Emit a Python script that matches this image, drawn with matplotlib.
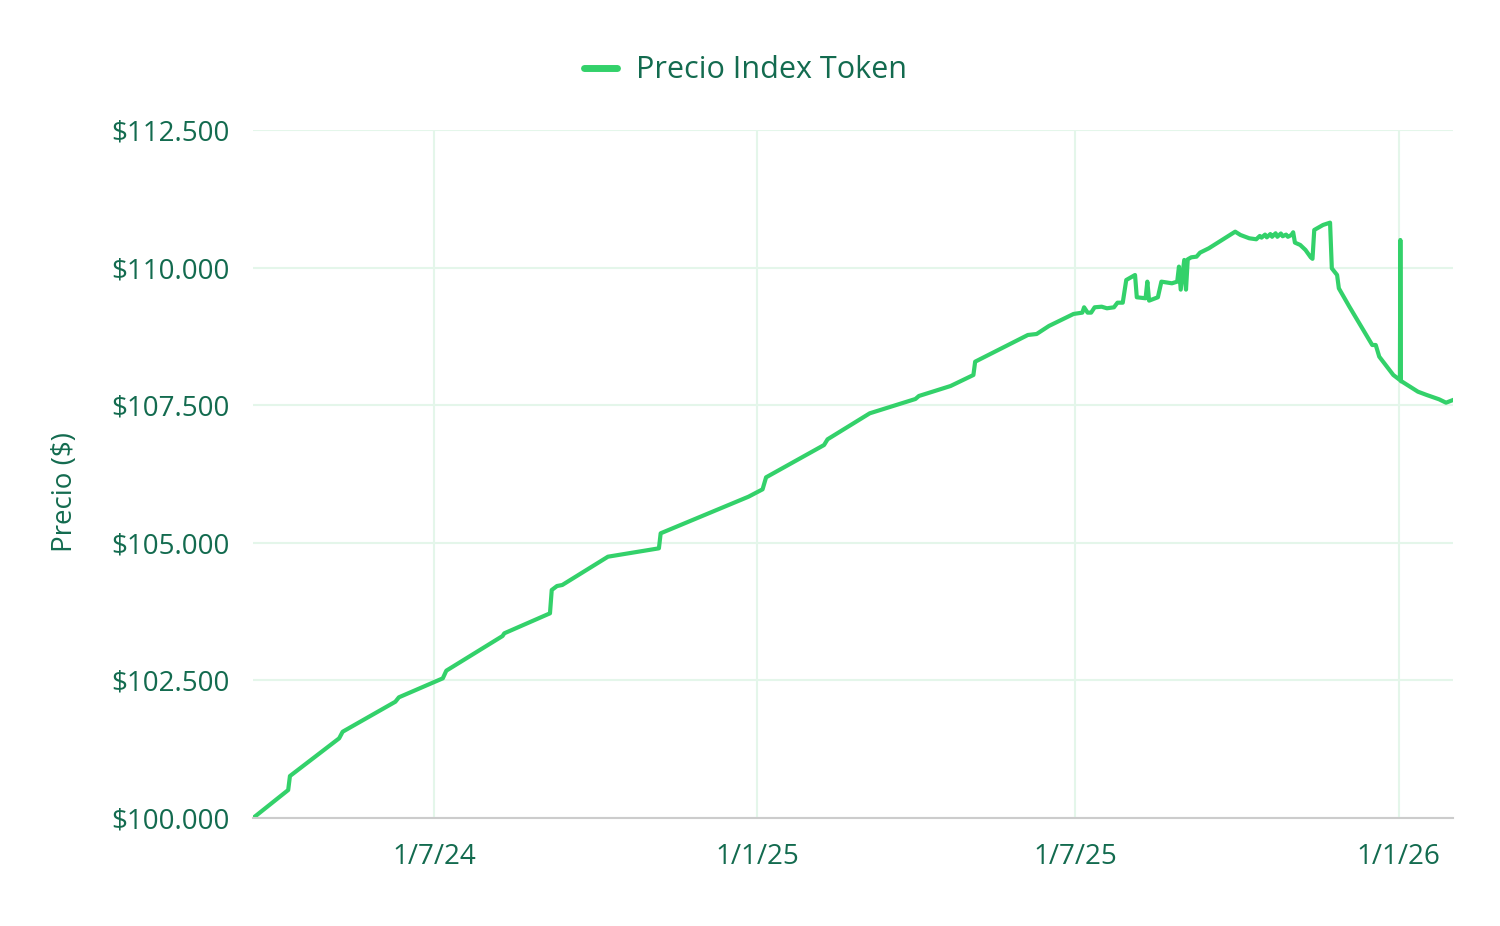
import pandas as pd
import matplotlib
matplotlib.use("Agg")
import matplotlib.pyplot as plt
import matplotlib.dates as mdates
from matplotlib.ticker import FuncFormatter, MultipleLocator

# fechas y precios
fechas = [
    "2024-03-20", "2024-04-09", "2024-04-10", "2024-05-08", "2024-05-10",
    "2024-06-09", "2024-06-11", "2024-07-06", "2024-07-08", "2024-08-09",
    "2024-08-10", "2024-09-05", "2024-09-06", "2024-09-09", "2024-09-12",
    "2024-10-08", "2024-11-06", "2024-11-07", "2024-12-27", "2025-01-04",
    "2025-01-06", "2025-02-08", "2025-02-10", "2025-03-06", "2025-04-01",
    "2025-04-03", "2025-04-21", "2025-05-04", "2025-05-05", "2025-06-04",
    "2025-06-09", "2025-06-16", "2025-06-30", "2025-07-05", "2025-07-06",
    "2025-07-08", "2025-07-10", "2025-07-12", "2025-07-16", "2025-07-19",
    "2025-07-23", "2025-07-25", "2025-07-28", "2025-07-30", "2025-08-04",
    "2025-08-05", "2025-08-10", "2025-08-11", "2025-08-12", "2025-08-17",
    "2025-08-19", "2025-08-25", "2025-08-28", "2025-08-29", "2025-08-30",
    "2025-09-01", "2025-09-02", "2025-09-03", "2025-09-05", "2025-09-08",
    "2025-09-10", "2025-09-15", "2025-09-30", "2025-10-03", "2025-10-08",
    "2025-10-12", "2025-10-14", "2025-10-15", "2025-10-17", "2025-10-18",
    "2025-10-20", "2025-10-21", "2025-10-23", "2025-10-24", "2025-10-26",
    "2025-10-27", "2025-10-29", "2025-10-30", "2025-11-01", "2025-11-02",
    "2025-11-03", "2025-11-06", "2025-11-09", "2025-11-12", "2025-11-13",
    "2025-11-14", "2025-11-19", "2025-11-23", "2025-11-24", "2025-11-27",
    "2025-11-28", "2025-12-04", "2025-12-17", "2025-12-19", "2025-12-21",
    "2025-12-29", "2026-01-01 18:00", "2026-01-02 00:00", "2026-01-02 08:00",
    "2026-01-03", "2026-01-12", "2026-01-17", "2026-01-24", "2026-01-28",
    "2026-02-01",
]
precios = [
    100000, 100509, 100763, 101448, 101568,
    102113, 102193, 102538, 102677, 103307,
    103356, 103719, 104143, 104215, 104234,
    104748, 104900, 105173, 105838, 105972,
    106190, 106777, 106881, 107353, 107613,
    107668, 107849, 108049, 108291, 108776,
    108794, 108940, 109158, 109182, 109279,
    109182, 109182, 109279, 109290, 109261,
    109279, 109363, 109363, 109775, 109866,
    109461, 109443, 109745, 109400, 109461,
    109745, 109715, 109745, 110018, 109600,
    110139, 109600, 110151, 110187, 110199,
    110272, 110351, 110653, 110593, 110533,
    110515, 110575, 110545, 110600, 110550,
    110610, 110560, 110624, 110560, 110620,
    110570, 110600, 110560, 110593, 110642,
    110454, 110412, 110321, 110187, 110160,
    110684, 110775, 110817, 109987, 109866,
    109624, 109290, 108594, 108594, 108382,
    108049, 107958, 110502, 107935,
    107928, 107746, 107686, 107608, 107546,
    107595,
]
xticks = ["2024-07-01", "2025-01-01", "2025-07-01", "2026-01-01"]

fechas = pd.to_datetime(fechas, format="mixed")
xticks = pd.to_datetime(xticks)

verde = "#33d16a"
texto = "#136b4f"
grid = "#e4f6ea"

plt.rcParams["font.family"] = ["Open Sans", "DejaVu Sans"]

fig = plt.figure(figsize=(15, 9.26), dpi=100)
ax = fig.add_axes([0.1687, 0.1166, 0.8, 0.743])

ax.plot(fechas, precios, color=verde, lw=3.0, solid_joinstyle="round",
        label="Precio Index Token")

ax.set_xlim(fechas[0], fechas[-1])
ax.set_ylim(100000, 112500)
ax.yaxis.set_major_locator(MultipleLocator(2500))
ax.yaxis.set_major_formatter(FuncFormatter(lambda v, p: "$" + f"{v:,.0f}".replace(",", ".")))
ax.set_xticks(xticks)
ax.xaxis.set_major_formatter(FuncFormatter(
    lambda v, p: "{d}/{m}/{y}".format(d=mdates.num2date(v).day,
                                      m=mdates.num2date(v).month,
                                      y=mdates.num2date(v).strftime("%y"))))

ax.grid(True, color=grid, lw=1.5)
ax.set_axisbelow(True)
for s in ["top", "right", "left"]:
    ax.spines[s].set_visible(False)
ax.spines["bottom"].set_color("#cccccc")
ax.spines["bottom"].set_linewidth(1.5)
ax.tick_params(axis="both", length=0, labelsize=20, labelcolor=texto)
ax.tick_params(axis="x", pad=18)
ax.tick_params(axis="y", pad=17)
ax.set_ylabel("Precio ($)", fontsize=20, color=texto)
ax.yaxis.set_label_coords(-0.145, 0.474)

leg = ax.legend(loc="lower center", bbox_to_anchor=(0.41, 1.025), frameon=False,
                fontsize=22, handlelength=1.1, handletextpad=0.6)
for t in leg.get_texts():
    t.set_color(texto)
for l in leg.get_lines():
    l.set_linewidth(5)
    l.set_solid_capstyle("round")

fig.savefig("out.png", dpi=100)
